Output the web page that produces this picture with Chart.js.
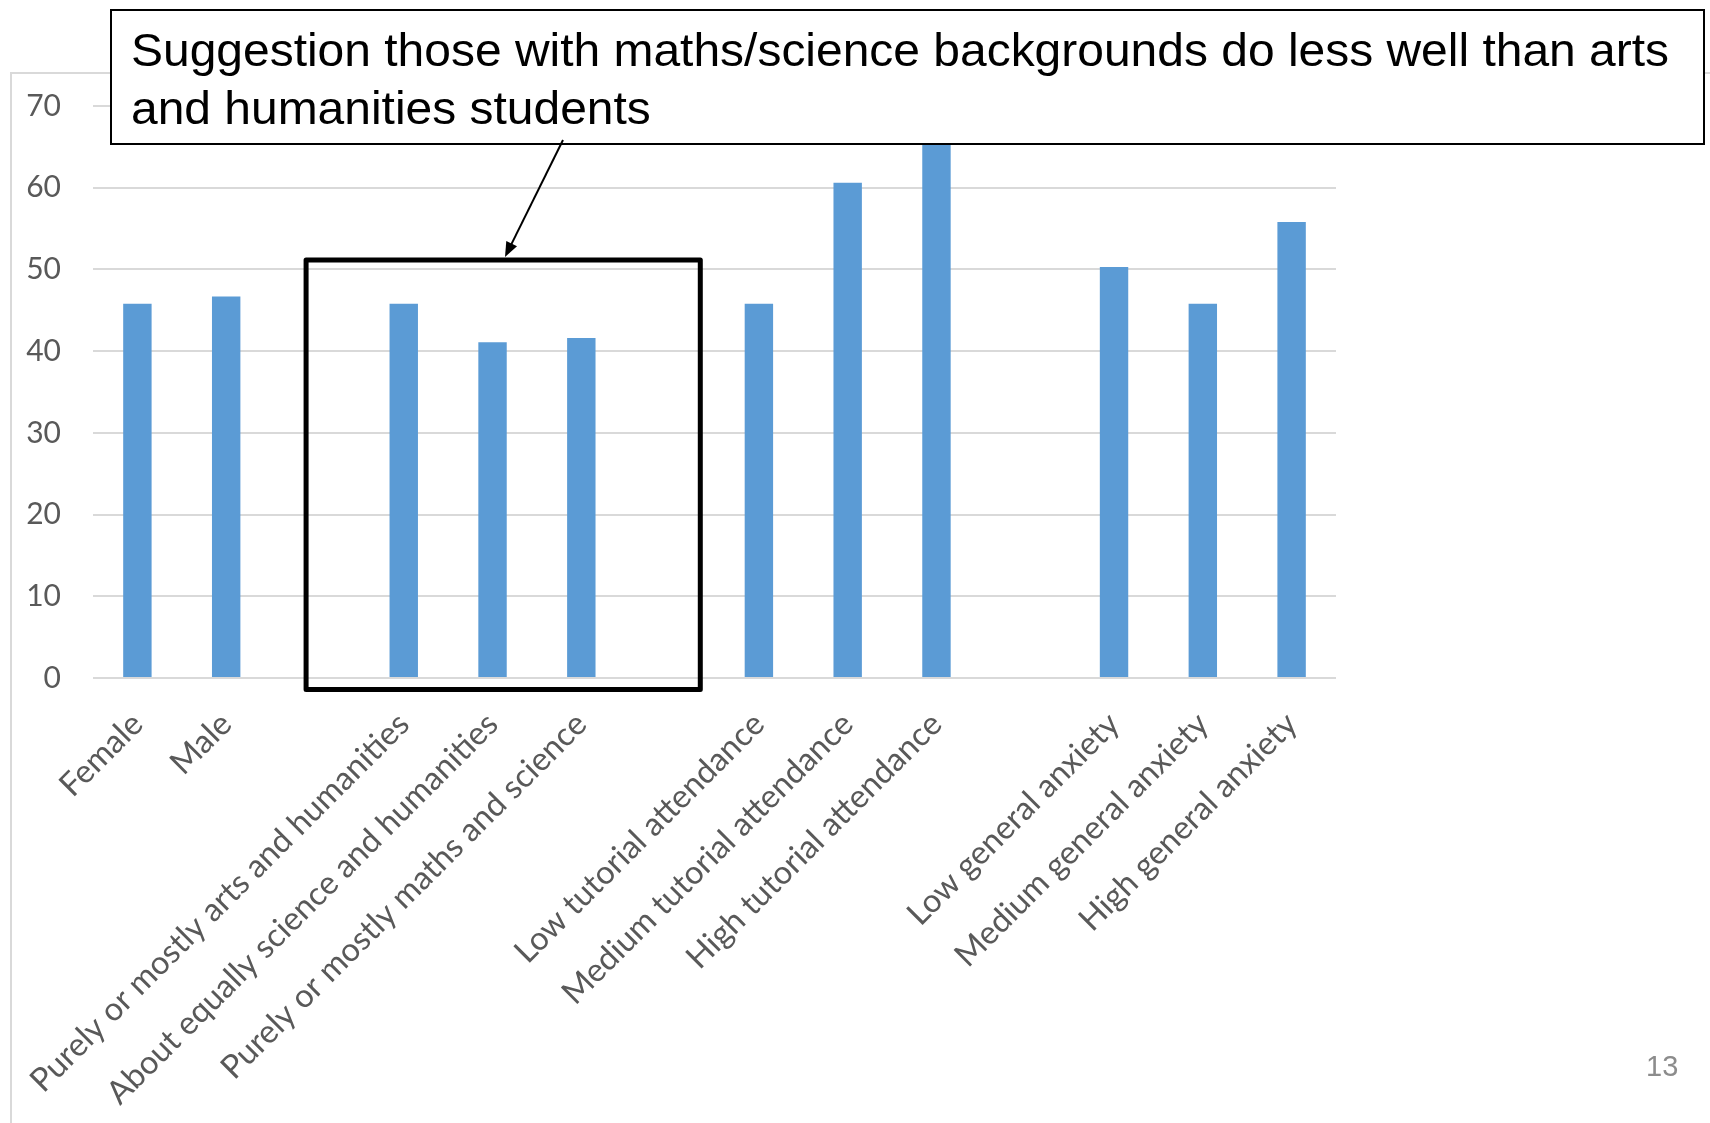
<!DOCTYPE html>
<html>
<head>
<meta charset="utf-8">
<script src="https://cdn.jsdelivr.net/npm/chart.js@4.4.1/dist/chart.umd.min.js"></script>
<style>
html, body { margin: 0; padding: 0; background: #fff; }
canvas { display: block; }
</style>
</head>
<body>
<canvas id="chart_scoreByGroup" width="1710" height="1123"></canvas>
<script>
// blank entries are the gaps between the groups
var categories = [
    'Female',
    'Male',
    '',
    'Purely or mostly arts and humanities',
    'About equally science and humanities',
    'Purely or mostly maths and science',
    '',
    'Low tutorial attendance',
    'Medium tutorial attendance',
    'High tutorial attendance',
    '',
    'Low general anxiety',
    'Medium general anxiety',
    'High general anxiety'
];
var scores = [45.8, 46.7, null, 45.8, 41.1, 41.6, null, 45.8, 60.6, 67, null, 50.3, 45.8, 55.8];
var yTicks = [0, 10, 20, 30, 40, 50, 60, 70];
var calloutLines = [
    'Suggestion those with maths/science backgrounds do less well than arts',
    'and humanities students'
];
var pageNumber = '13';

var slidePlugin = {
    id: 'slideAnnotations',
    beforeDraw: (chart) => {
        const ctx = chart.ctx;
        ctx.save();
        ctx.fillStyle = 'white';
        ctx.fillRect(0, 0, chart.width, chart.height);
        // frame of the slide placeholder
        ctx.strokeStyle = '#d9d9d9';
        ctx.lineWidth = 2;
        ctx.beginPath();
        ctx.moveTo(11, chart.height);
        ctx.lineTo(11, 73);
        ctx.lineTo(chart.width, 73);
        ctx.stroke();
        ctx.restore();
    },
    afterDraw: (chart) => {
        const ctx = chart.ctx;
        const xs = chart.scales.x, ys = chart.scales.y;
        ctx.save();

        // box round the background group
        const left = xs.getPixelForValue(1.9), right = xs.getPixelForValue(6.34);
        const top = ys.getPixelForValue(51.15), bottom = ys.getPixelForValue(-1.42);
        ctx.strokeStyle = '#000';
        ctx.lineWidth = 5;
        ctx.lineJoin = 'round';
        ctx.strokeRect(left, top, right - left, bottom - top);

        // callout
        ctx.fillStyle = '#fff';
        ctx.fillRect(111, 10, 1593, 134);
        ctx.lineWidth = 2;
        ctx.lineJoin = 'miter';
        ctx.strokeRect(111, 10, 1593, 134);

        ctx.fillStyle = '#000';
        ctx.font = '47px "Liberation Sans", Arial, sans-serif';
        ctx.textBaseline = 'alphabetic';
        ctx.textAlign = 'left';
        const w = ctx.measureText(calloutLines[0]).width;
        const sx = 1538 / w;
        ctx.save();
        ctx.translate(131, 0);
        ctx.scale(sx, 1);
        ctx.fillText(calloutLines[0], 0, 66);
        ctx.fillText(calloutLines[1], 0, 124);
        ctx.restore();

        // arrow
        const x0 = 563, y0 = 140, x1 = 505, y1 = top - 3;
        const ang = Math.atan2(y1 - y0, x1 - x0);
        ctx.strokeStyle = '#000';
        ctx.lineWidth = 2;
        ctx.beginPath();
        ctx.moveTo(x0, y0);
        ctx.lineTo(x1 - 10 * Math.cos(ang), y1 - 10 * Math.sin(ang));
        ctx.stroke();
        ctx.beginPath();
        ctx.moveTo(x1, y1);
        ctx.lineTo(x1 - 15 * Math.cos(ang) + 6 * Math.sin(ang), y1 - 15 * Math.sin(ang) - 6 * Math.cos(ang));
        ctx.lineTo(x1 - 15 * Math.cos(ang) - 6 * Math.sin(ang), y1 - 15 * Math.sin(ang) + 6 * Math.cos(ang));
        ctx.closePath();
        ctx.fill();

        // slide number
        ctx.fillStyle = '#8c8c8c';
        ctx.font = '29px "Liberation Sans", Arial, sans-serif';
        ctx.fillText(pageNumber, 1646, 1076);
        ctx.restore();
    }
};

var chart_scoreByGroup = new Chart(document.getElementById('chart_scoreByGroup'), {
    type: 'bar',
    data: {
        labels: categories,
        datasets: [
            {
                label: 'Score',
                data: scores,
                backgroundColor: '#5b9bd5',
                borderWidth: 0,
                categoryPercentage: 1,
                barPercentage: 0.32
            }
        ]
    },
    options: {
        animation: false,
        responsive: false,
        events: [],
        layout: {
            padding: { top: 106, right: 374, bottom: 0, left: 0 }
        },
        plugins: {
            legend: { display: false },
            tooltip: { enabled: false },
            title: { display: false }
        },
        scales: {
            x: {
                grid: { display: false, drawTicks: false },
                border: { display: false },
                ticks: {
                    autoSkip: false,
                    minRotation: 45,
                    maxRotation: 45,
                    padding: 27,
                    color: '#595959',
                    font: { family: 'Lato', size: 32.5 }
                },
                afterFit: (s) => { s.height = 445; }
            },
            y: {
                min: 0,
                max: 70,
                grid: { color: '#d9d9d9', lineWidth: 2, drawTicks: false },
                border: { display: false },
                ticks: {
                    padding: 32,
                    color: '#595959',
                    font: { family: 'Lato', size: 30 }
                },
                afterBuildTicks: (s) => { s.ticks = yTicks.map(v => ({ value: v })); },
                afterFit: (s) => { s.width = 93; }
            }
        }
    },
    plugins: [slidePlugin]
});
</script>
</body>
</html>
